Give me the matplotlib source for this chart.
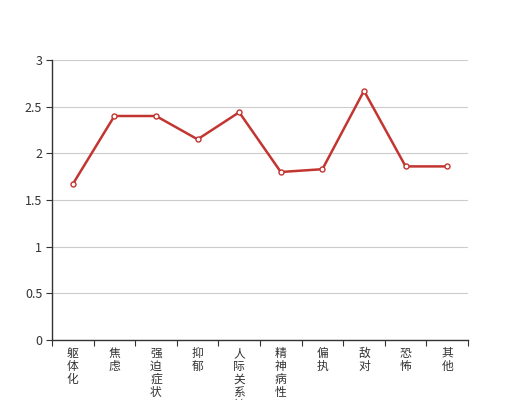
import matplotlib
matplotlib.use("Agg")
import matplotlib.pyplot as plt
import numpy as np

plt.rcParams['font.family'] = ['Noto Sans CJK SC', 'DejaVu Sans']

categories = ["躯体化", "焦虑", "强迫症状", "抑郁", "人际关系敏感", "精神病性", "偏执", "敌对", "恐怖", "其他"]
values = [1.67, 2.40, 2.40, 2.15, 2.44, 1.80, 1.83, 2.67, 1.86, 1.86]
y_ticks = [0, 0.5, 1, 1.5, 2, 2.5, 3]
y_labels = ["0", "0.5", "1", "1.5", "2", "2.5", "3"]

fig = plt.figure(figsize=(5.2, 4.0), dpi=100)
ax = fig.add_axes([0.1, 0.15, 0.8, 0.70])

x = np.arange(len(categories))
ax.plot(x, values, color="#c23531", linewidth=1.8, marker="o", markersize=3.6,
        markerfacecolor="white", markeredgecolor="#c23531", markeredgewidth=1.0, zorder=3)

ax.set_xlim(-0.5, len(categories) - 0.5)
ax.set_ylim(0, 3)
ax.set_yticks(y_ticks)
ax.set_yticklabels(y_labels, fontsize=9, color="#333333")
ax.yaxis.grid(True, color="#cccccc", linewidth=0.8)
ax.set_axisbelow(True)

ax.set_xticks(np.arange(len(categories) + 1) - 0.5)
ax.set_xticklabels([])
ax.set_xticks(x, minor=True)
ax.set_xticklabels(["\n".join(c) for c in categories], minor=True, fontsize=8.5,
                   color="#333333", linespacing=1.0, va="top")
ax.tick_params(axis="x", which="major", length=4, direction="out", color="#333333")
ax.tick_params(axis="x", which="minor", length=0, pad=5)
ax.tick_params(axis="y", length=4, direction="out", color="#333333", pad=3)

for s in ["top", "right"]:
    ax.spines[s].set_visible(False)
for s in ["left", "bottom"]:
    ax.spines[s].set_color("#333333")
    ax.spines[s].set_linewidth(1.0)

fig.savefig("out.png", dpi=100)
